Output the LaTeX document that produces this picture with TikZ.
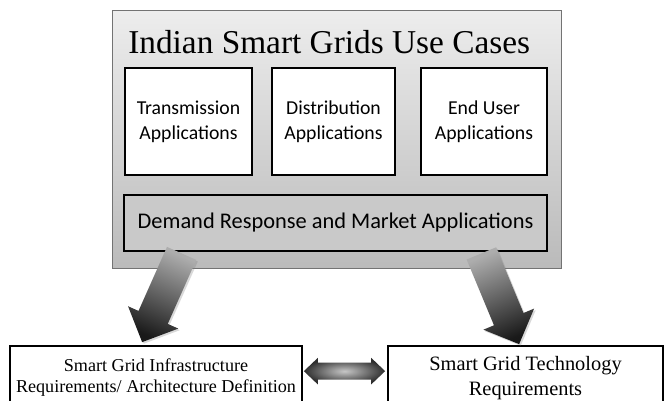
\documentclass[tikz,border=0pt]{standalone}
\usepackage{fontspec}
\setmainfont{Liberation Serif}
\newfontfamily\calibfont{Carlito}
\usetikzlibrary{calc,shadows}

% block arrow from #1 (tail) to #2 (tip), shading turned by #3
\newcommand\shadedarrow[3]{%
  \coordinate (neck) at ($(#2)!20.3pt!(#1)$);
  \path[arrowshade,shading angle=#3]
    ($(#1)!12pt!90:(#2)$) -- ($(neck)!12pt!90:(#2)$) -- ($(neck)!20.6pt!90:(#2)$) -- (#2)
    -- ($(neck)!20.6pt!-90:(#2)$) -- ($(neck)!12pt!-90:(#2)$) -- ($(#1)!12pt!-90:(#2)$) -- cycle;
}

\begin{document}
\begin{tikzpicture}[x=0.75pt,y=-0.75pt,
    appbox/.style={draw=black,line width=1pt,inner sep=0pt,align=center,
      font=\calibfont\fontsize{14.8}{18.75}\selectfont},
    reqbox/.style={draw=black,line width=1.3pt,fill=white,inner sep=0pt,align=center},
    arrowshade/.style={top color=black!90,bottom color=black!32,
      drop shadow={opacity=0.3,shadow xshift=1.2pt,shadow yshift=-1.2pt}}]
  \useasboundingbox (0,0) rectangle (664,400);

  % use cases
  \node[draw=black!55,line width=0.6pt,top color=black!7,bottom color=black!27,
    minimum width=336.75pt,minimum height=193.5pt,inner sep=0pt] (usecases) at (336.5,139) {};
  \node[anchor=base west,inner sep=0pt,font=\fontsize{25}{28}\selectfont] (title) at (128,53) {Indian Smart Grids Use Cases};
  \node[appbox,fill=white,minimum width=95.25pt,minimum height=80.25pt] (trans) at (188.5,121.5) {Transmission\\Applications};
  \node[appbox,fill=white,minimum width=92.25pt,minimum height=80.25pt] (distr) at (333.5,121.5) {Distribution\\Applications};
  \node[appbox,fill=white,minimum width=94.5pt,minimum height=80.25pt] (enduser) at (484,121.5) {End User\\Applications};
  \node[appbox,fill=black!21,minimum width=317.25pt,minimum height=42pt,
    font=\calibfont\fontsize{16.8}{20}\selectfont] (demand) at (335.5,223) {Demand Response and Market Applications};

  % requirements
  \node[reqbox,minimum width=219pt,minimum height=48pt,font=\fontsize{13.6}{15.75}\selectfont] (infra) at (156,378)
    {Smart Grid Infrastructure\\Requirements/ Architecture Definition};
  \node[reqbox,minimum width=206.25pt,minimum height=48pt,font=\fontsize{15.3}{18.75}\selectfont] (tech) at (525.5,378)
    {Smart Grid Technology\\Requirements};

  % arrows
  \coordinate (ltail) at ($(usecases.south west)+(70,-15)$);
  \coordinate (ltip) at ($(infra.north west)+(133,-3)$);
  \coordinate (rtail) at ($(usecases.south east)+(-80,-15)$);
  \coordinate (rtip) at ($(tech.north west)+(132,-1)$);
  \shadedarrow{ltail}{ltip}{156.6}
  \shadedarrow{rtail}{rtip}{203}

  \coordinate (dl) at ($(infra.north east)+(1,26)$);
  \coordinate (dr) at ($(tech.north west)+(-2,26)$);
  \coordinate (hl) at ($(dl)!10.5pt!(dr)$);
  \coordinate (hr) at ($(dr)!10.5pt!(dl)$);
  \path[inner color=black!22,outer color=black!82]
    (dl) -- ($(hl)!10pt!90:(dr)$) -- ($(hl)!6.4pt!90:(dr)$) -- ($(hr)!6.4pt!-90:(dl)$) -- ($(hr)!10pt!-90:(dl)$) -- (dr)
    -- ($(hr)!10pt!90:(dl)$) -- ($(hr)!6.4pt!90:(dl)$) -- ($(hl)!6.4pt!-90:(dr)$) -- ($(hl)!10pt!-90:(dr)$) -- cycle;
\end{tikzpicture}
\end{document}
